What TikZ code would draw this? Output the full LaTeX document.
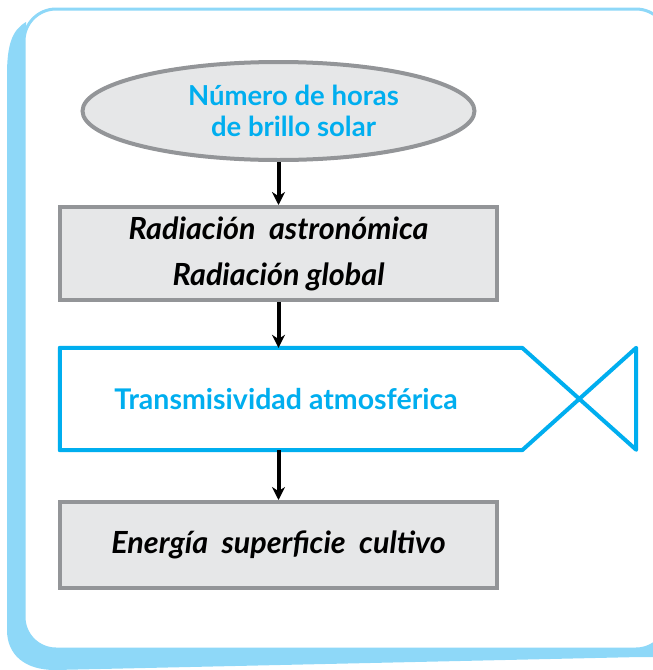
\documentclass[tikz,border=0pt]{standalone}
\usepackage{fontspec}
\usepackage{tikz}
\usetikzlibrary{arrows.meta,calc,positioning,shapes.geometric}

\newfontfamily\diafont{Lato}
\definecolor{cardblue}{HTML}{8ED8F8}
\definecolor{titlecyan}{HTML}{00AEEF}
\definecolor{boxgray}{HTML}{939598}
\definecolor{boxfill}{HTML}{E6E7E8}

\tikzset{
  graybox/.style={draw=boxgray,line width=4pt,fill=boxfill,inner sep=0pt,
    minimum width=437pt,align=center,font=\diafont\bfseries\itshape\fontsize{30.5}{46}\selectfont},
  startoval/.style={ellipse,draw=boxgray,line width=4pt,fill=boxfill,inner sep=0pt,
    minimum width=392pt,minimum height=98pt,align=center,text=titlecyan,
    font=\diafont\bfseries\fontsize{27.5}{31}\selectfont},
  flowarrow/.style={-{Stealth[length=13pt,width=13pt]},line width=4pt,black}
}

\begin{document}
\begin{tikzpicture}[x=1pt,y=-1pt]
\useasboundingbox (0,0) rectangle (653,670);

% Card with light blue back
\fill[cardblue] (26,22) .. controls (12,30) and (7,45) .. (7,75) -- (7,630)
  .. controls (7,655) and (25,670) .. (55,670) -- (640,657) -- (665,657)
  -- (665,600) -- (26,600) -- cycle;
\draw[cardblue,line width=3pt,fill=white,rounded corners=32pt]
  (24,9) rectangle (668,649);

% Flow nodes
\node[startoval] (sunhours) at (278.5,111)
  {\hspace*{30pt}Número de horas\\\hspace*{30pt}de brillo solar};
\node[graybox,minimum height=93pt] (radbox) at (278.5,253.5)
  {Radiación\ \ astronómica\\Radiación global};
\node[inner sep=0pt,minimum width=462pt,minimum height=102pt,text=titlecyan,
  font=\diafont\bfseries\fontsize{28.5}{30}\selectfont] (transbox) at (291,399)
  {\hspace*{-10pt}Transmisividad atmosférica};
\node[graybox,minimum height=86pt] (energybox) at (278.5,545)
  {Energía\ \ superficie\ \ cultivo};

% Transmisividad outline with bow tie
\draw[titlecyan,line width=4pt,line join=round]
  (transbox.north west) -- (transbox.north east) -- ++(114,102) -- ++(0,-102)
  -- (transbox.south east) -- (transbox.south west) -- cycle;

% Arrows
\draw[flowarrow] (sunhours.south) -- (radbox.north);
\draw[flowarrow] (radbox.south) -- (radbox.south |- transbox.north);
\draw[flowarrow] (radbox.south |- transbox.south) -- (energybox.north);
\end{tikzpicture}
\end{document}
